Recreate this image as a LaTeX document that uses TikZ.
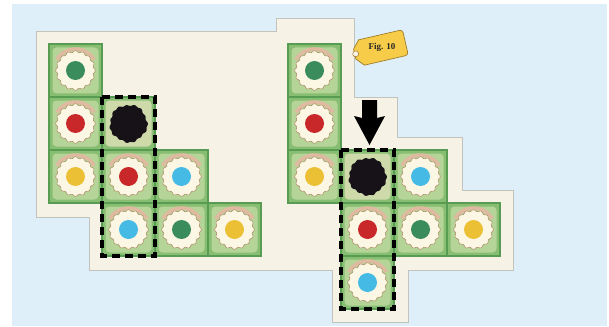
\documentclass[tikz,border=0pt]{standalone}
\usepackage{fontspec}
\setmainfont{Liberation Serif}
\begin{document}
\begin{tikzpicture}[x=1pt,y=-1pt,
  dashbox/.style={draw=black,line width=3.2,dash pattern=on 8pt off 5pt},
  tile/.pic={
    \fill[tilegreen] (-26.5,-26.5) rectangle (26.5,26.5);
    \fill[tileinner,rounded corners=4] (-23,-23) rectangle (23,23);
    \draw[pinkc,line width=3.5] plot[domain=210:330,samples=24] (\x:21.5);
    \draw[tileborder,line width=1.4] (-26.5,-26.5) rectangle (26.5,26.5);
    \filldraw[fill=ringc,draw=ringedge,line width=0.6]
      plot[domain=0:360,samples=97] (\x:{19+0.9*cos(16*\x)}) -- cycle;
    \fill[#1] (0,0) circle (9.5);
  },
  blobtile/.pic={
    \fill[tilegreen] (-26.5,-26.5) rectangle (26.5,26.5);
    \fill[blobinner,rounded corners=4] (-23,-23) rectangle (23,23);
    \draw[tileborder,line width=1.4] (-26.5,-26.5) rectangle (26.5,26.5);
    \fill[blobc] plot[domain=0:360,samples=121]
      (\x:{18.5+0.6*cos(15*\x)+0.6*sin(5*\x+30)}) -- cycle;
  }]
\definecolor{bgblue}{RGB}{222,239,250}
\definecolor{cream}{RGB}{246,242,230}
\definecolor{creamedge}{RGB}{195,195,190}
\definecolor{tilegreen}{RGB}{136,190,114}
\definecolor{tileinner}{RGB}{180,212,152}
\definecolor{blobinner}{RGB}{206,218,170}
\definecolor{tileborder}{RGB}{88,156,84}
\definecolor{pinkc}{RGB}{224,186,160}
\definecolor{ringc}{RGB}{252,247,228}
\definecolor{ringedge}{RGB}{175,145,105}
\definecolor{dgreen}{RGB}{58,140,92}
\definecolor{dred}{RGB}{200,40,42}
\definecolor{dyellow}{RGB}{236,192,52}
\definecolor{dblue}{RGB}{68,186,228}
\definecolor{blobc}{RGB}{22,18,24}
\definecolor{tagc}{RGB}{246,204,72}
\definecolor{tagedge}{RGB}{160,125,40}
\useasboundingbox (0,0) rectangle (609,326);
\fill[white] (0,0) rectangle (609,326);
\fill[bgblue] (12,4) rectangle (607,326);
% cream board
\filldraw[fill=cream,draw=creamedge,line width=0.8]
  (36,31) -- (276,31) -- (276,18) -- (354,18) -- (354,97) -- (397,97)
  -- (397,137) -- (462,137) -- (462,190) -- (513,190) -- (513,270)
  -- (408,270) -- (408,322) -- (332,322) -- (332,270) -- (89,270)
  -- (89,217) -- (36,217) -- cycle;
% left group
\pic at (75.5,70.5) {tile=dgreen};
\pic at (75.5,123.5) {tile=dred};
\pic at (128.5,123.5) {blobtile};
\pic at (75.5,176.5) {tile=dyellow};
\pic at (128.5,176.5) {tile=dred};
\pic at (181.5,176.5) {tile=dblue};
\pic at (128.5,229.5) {tile=dblue};
\pic at (181.5,229.5) {tile=dgreen};
\pic at (234.5,229.5) {tile=dyellow};
\draw[dashbox] (102,97) rectangle (155,256);
% right group
\pic at (314.5,70.5) {tile=dgreen};
\pic at (314.5,123.5) {tile=dred};
\pic at (314.5,176.5) {tile=dyellow};
\pic at (367.5,176.5) {blobtile};
\pic at (420.5,176.5) {tile=dblue};
\pic at (367.5,229.5) {tile=dred};
\pic at (420.5,229.5) {tile=dgreen};
\pic at (473.5,229.5) {tile=dyellow};
\pic at (367.5,282.5) {tile=dblue};
\draw[dashbox] (341,150) rectangle (394,309);
% arrow
\fill[black] (362,100) -- (377,100) -- (377,118) -- (385,116) -- (369.5,145)
  -- (354,116) -- (362,118) -- cycle;
% tag
\begin{scope}[shift={(381,48)},rotate=13]
  \filldraw[fill=tagc,draw=tagedge,line width=0.7]
    (-20,-13) -- (22,-13) to[out=0,in=90] (25,-10) -- (25,10) to[out=270,in=0] (22,13)
    -- (-20,13) -- (-27,5) -- (-27,-5) -- cycle;
  \filldraw[fill=cream,draw=tagedge,line width=0.5] (-26,0) circle (3);
  \node[font=\bfseries\fontsize{9}{10}\selectfont,text=black!85] (figtag) at (1,0) {Fig. 10};
\end{scope}
\end{tikzpicture}
\end{document}
